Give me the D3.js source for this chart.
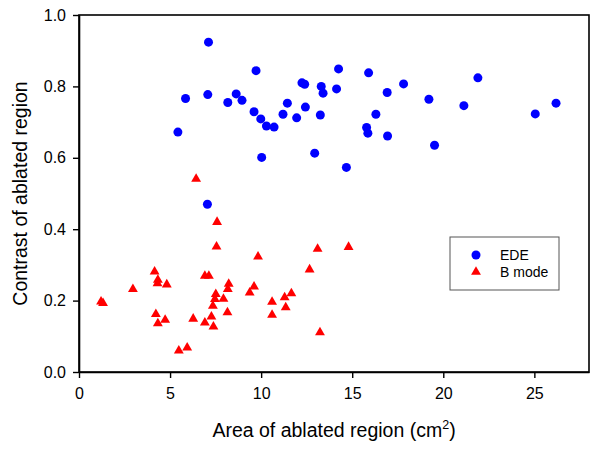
<!DOCTYPE html>
<html>
<head>
<meta charset="utf-8">
<script src="https://cdn.jsdelivr.net/npm/d3@7"></script>
<style>
  html, body { margin: 0; padding: 0; background: #fff; }
  svg { display: block; font-family: "Liberation Sans", Arial, sans-serif; }
</style>
</head>
<body>
<svg id="chart" width="600" height="449"></svg>
<script>
// ---- Data ----
const edeX = [7.11, 5.85, 5.43, 7.07, 8.17, 8.63, 8.95, 9.72, 9.61, 9.98,
              10.29, 10.71, 10.03, 11.2, 11.44, 11.95, 12.24, 12.39, 12.43, 13.3,
              13.4, 13.25, 12.94, 14.25, 14.14, 14.68, 15.9, 16.92, 16.3, 15.79,
              15.86, 16.94, 17.82, 19.21, 19.52, 21.9, 21.13, 25.05, 26.19, 7.05];
const edeY = [0.924, 0.766, 0.672, 0.777, 0.755, 0.779, 0.761, 0.844, 0.729, 0.709,
              0.689, 0.686, 0.601, 0.722, 0.753, 0.712, 0.810, 0.806, 0.742, 0.800,
              0.781, 0.720, 0.613, 0.849, 0.793, 0.573, 0.838, 0.783, 0.722, 0.685,
              0.669, 0.661, 0.807, 0.764, 0.635, 0.824, 0.746, 0.723, 0.753, 0.470];

const bX = [1.21, 1.32, 2.96, 4.15, 4.33, 4.31, 4.82, 4.22, 4.33, 4.73,
            5.48, 5.94, 6.27, 7.55, 6.91, 7.13, 7.51, 7.46, 7.93, 7.35,
            8.22, 8.17, 8.15, 6.91, 7.27, 7.38, 9.83, 13.1, 14.8, 12.66,
            9.61, 9.37, 10.6, 11.29, 11.66, 11.35, 10.6, 13.23, 6.43, 7.58];
const bY = [0.197, 0.193, 0.232, 0.281, 0.258, 0.248, 0.245, 0.162, 0.136, 0.146,
            0.060, 0.068, 0.149, 0.351, 0.269, 0.269, 0.218, 0.204, 0.205, 0.185,
            0.247, 0.232, 0.167, 0.138, 0.155, 0.127, 0.323, 0.345, 0.350, 0.287,
            0.239, 0.222, 0.196, 0.209, 0.220, 0.181, 0.160, 0.111, 0.541, 0.420];

const xTicks = [0, 5, 10, 15, 20, 25];
const yTicks = [0.0, 0.2, 0.4, 0.6, 0.8, 1.0];
const seriesNames = ["EDE", "B mode"];
const seriesColors = ["#0000ff", "#ff0000"];
const xTitle = "Area of ablated region (cm";
const yTitle = "Contrast of ablated region";

// ---- Layout ----
const svg = d3.select("#chart");
const pLeft = 79, pRight = 589, pTop = 15, pBottom = 372;

const x = d3.scaleLinear().domain([0, 28]).range([pLeft, pRight]);
const y = d3.scaleLinear().domain([0, 1]).range([pBottom, pTop]);

// Frame (top and right)
svg.append("rect")
  .attr("x", pLeft).attr("y", pTop)
  .attr("width", pRight - pLeft).attr("height", pBottom - pTop)
  .attr("fill", "none").attr("stroke", "#000").attr("stroke-width", 1.6);

// Axes
const xAxis = svg.append("g")
  .attr("transform", `translate(0,${pBottom})`)
  .call(d3.axisBottom(x).tickValues(xTicks).tickSize(6).tickPadding(10).tickSizeOuter(0));
const yAxis = svg.append("g")
  .attr("transform", `translate(${pLeft},0)`)
  .call(d3.axisLeft(y).tickValues(yTicks).tickFormat(d3.format(".1f")).tickSize(6).tickPadding(7).tickSizeOuter(0));

[xAxis, yAxis].forEach(g => {
  g.select(".domain").attr("stroke", "#000").attr("stroke-width", 1.6);
  g.selectAll(".tick line").attr("stroke", "#000").attr("stroke-width", 1.4);
  g.selectAll(".tick text").attr("fill", "#000")
    .style("font-family", '"Liberation Sans", Arial, sans-serif')
    .style("font-size", "16px");
});

// Axis titles
const xt = svg.append("text")
  .attr("x", (pLeft + pRight) / 2).attr("y", 437)
  .attr("text-anchor", "middle")
  .style("font-size", "19.5px").attr("fill", "#000");
xt.append("tspan").text(xTitle);
xt.append("tspan").text("2").style("font-size", "12.5px").attr("dy", -8);
xt.append("tspan").text(")").attr("dy", 8);

svg.append("text")
  .attr("transform", `translate(27,${(pTop + pBottom) / 2}) rotate(-90)`)
  .attr("text-anchor", "middle")
  .style("font-size", "19.5px").attr("fill", "#000")
  .text(yTitle);

// Points
const ede = edeX.map((v, i) => ({ x: v, y: edeY[i] }));
const bm = bX.map((v, i) => ({ x: v, y: bY[i] }));

svg.append("g").selectAll("path").data(bm).join("path")
  .attr("d", d3.symbol(d3.symbolTriangle, 42)())
  .attr("transform", d => `translate(${x(d.x)},${y(d.y)})`)
  .attr("fill", seriesColors[1]);

svg.append("g").selectAll("circle").data(ede).join("circle")
  .attr("cx", d => x(d.x)).attr("cy", d => y(d.y))
  .attr("r", 4.5)
  .attr("fill", seriesColors[0]);

// Legend
const lg = svg.append("g");
lg.append("rect")
  .attr("x", 450).attr("y", 237).attr("width", 109).attr("height", 53)
  .attr("fill", "#fff").attr("stroke", "#555").attr("stroke-width", 1);
lg.append("circle").attr("cx", 476).attr("cy", 255).attr("r", 4.5).attr("fill", seriesColors[0]);
lg.append("path").attr("d", d3.symbol(d3.symbolTriangle, 42)())
  .attr("transform", "translate(476,272)").attr("fill", seriesColors[1]);
lg.append("text").attr("x", 500).attr("y", 260).style("font-size", "14px").text(seriesNames[0]);
lg.append("text").attr("x", 500).attr("y", 277).style("font-size", "14px").text(seriesNames[1]);
</script>
</body>
</html>
